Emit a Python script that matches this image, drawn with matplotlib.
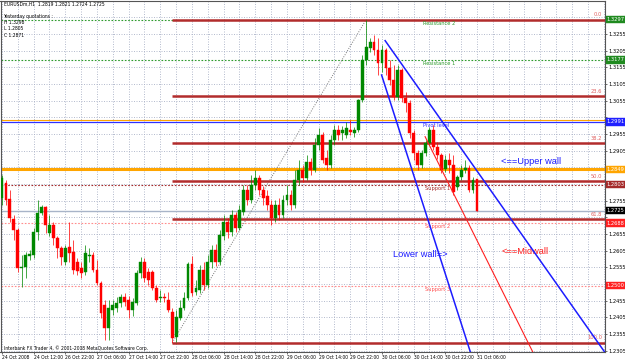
import matplotlib
matplotlib.use('Agg')
import matplotlib.pyplot as plt
import matplotlib.transforms as mtransforms
import numpy as np

# EURUSDm H1 bars, 24 Oct 2008 04:00 .. 31 Oct 2008 06:00
opens = [1.2763, 1.2808, 1.2760, 1.2700, 1.2667, 1.2553, 1.2556, 1.2589, 1.2592, 1.2661,
         1.2718, 1.2736, 1.2658, 1.2682, 1.2643, 1.2613, 1.2571, 1.2616, 1.2601, 1.2571,
         1.2553, 1.2541, 1.2589, 1.2592, 1.2547, 1.2508, 1.2442, 1.2373, 1.2427, 1.2433,
         1.2448, 1.2466, 1.2457, 1.2427, 1.2448, 1.2538, 1.2571, 1.2541, 1.2541, 1.2493,
         1.2463, 1.2466, 1.2457, 1.2421, 1.2346, 1.2403, 1.2433, 1.2463, 1.2565, 1.2481,
         1.2487, 1.2547, 1.2502, 1.2571, 1.2607, 1.2571, 1.2649, 1.2691, 1.2661, 1.2712,
         1.2673, 1.2721, 1.2787, 1.2757, 1.2802, 1.2823, 1.2787, 1.2769, 1.2742, 1.2703,
         1.2742, 1.2712, 1.2757, 1.2772, 1.2742, 1.2817, 1.2847, 1.2823, 1.2871, 1.2847,
         1.2922, 1.2952, 1.2883, 1.2862, 1.2937, 1.2967, 1.2958, 1.2952, 1.2967, 1.2958,
         1.2967, 1.3057, 1.3177, 1.3213, 1.3231, 1.3207, 1.3168, 1.3207, 1.3153, 1.3117,
         1.3066, 1.3147, 1.3063, 1.3048, 1.2958, 1.2898, 1.2862, 1.2898, 1.2928, 1.2967,
         1.2916, 1.2892, 1.2850, 1.2877, 1.2862, 1.2796, 1.2826, 1.2847, 1.2853, 1.2787,
         1.2819]
highs = [1.2832, 1.2817, 1.2787, 1.2712, 1.2673, 1.2592, 1.2601, 1.2607, 1.2673, 1.2757,
         1.2742, 1.2739, 1.2712, 1.2691, 1.2649, 1.2619, 1.2622, 1.2691, 1.2637, 1.2583,
         1.2571, 1.2622, 1.2613, 1.2601, 1.2577, 1.2514, 1.2457, 1.2457, 1.2457, 1.2466,
         1.2475, 1.2478, 1.2469, 1.2463, 1.2547, 1.2586, 1.2583, 1.2553, 1.2547, 1.2502,
         1.2487, 1.2478, 1.2481, 1.2433, 1.2427, 1.2457, 1.2481, 1.2571, 1.2589, 1.2517,
         1.2562, 1.2571, 1.2592, 1.2622, 1.2625, 1.2667, 1.2712, 1.2703, 1.2727, 1.2721,
         1.2742, 1.2802, 1.2802, 1.2832, 1.2847, 1.2832, 1.2799, 1.2787, 1.2757, 1.2757,
         1.2763, 1.2772, 1.2802, 1.2787, 1.2847, 1.2877, 1.2862, 1.2892, 1.2883, 1.2943,
         1.2973, 1.2961, 1.2907, 1.2952, 1.2982, 1.2982, 1.2979, 1.2991, 1.2997, 1.2976,
         1.3060, 1.3192, 1.3298, 1.3243, 1.3252, 1.3243, 1.3222, 1.3213, 1.3177, 1.3162,
         1.3162, 1.3153, 1.3081, 1.3057, 1.2967, 1.2907, 1.2907, 1.2937, 1.2976, 1.2982,
         1.2931, 1.2898, 1.2892, 1.2898, 1.2892, 1.2832, 1.2862, 1.2877, 1.2862, 1.2826,
         1.2821]
lows = [1.2742, 1.2742, 1.2691, 1.2637, 1.2541, 1.2496, 1.2523, 1.2577, 1.2583, 1.2637,
        1.2712, 1.2658, 1.2649, 1.2622, 1.2583, 1.2562, 1.2562, 1.2571, 1.2535, 1.2532,
        1.2523, 1.2532, 1.2571, 1.2541, 1.2502, 1.2403, 1.2337, 1.2337, 1.2412, 1.2421,
        1.2436, 1.2439, 1.2403, 1.2409, 1.2442, 1.2523, 1.2511, 1.2502, 1.2487, 1.2451,
        1.2451, 1.2451, 1.2421, 1.2329, 1.2331, 1.2397, 1.2427, 1.2457, 1.2469, 1.2472,
        1.2478, 1.2487, 1.2493, 1.2553, 1.2559, 1.2562, 1.2637, 1.2643, 1.2649, 1.2661,
        1.2667, 1.2712, 1.2742, 1.2748, 1.2787, 1.2772, 1.2742, 1.2727, 1.2682, 1.2691,
        1.2697, 1.2703, 1.2742, 1.2727, 1.2733, 1.2802, 1.2811, 1.2817, 1.2832, 1.2841,
        1.2907, 1.2868, 1.2847, 1.2853, 1.2922, 1.2937, 1.2937, 1.2943, 1.2952, 1.2946,
        1.2961, 1.3051, 1.3162, 1.3201, 1.3192, 1.3132, 1.3141, 1.3132, 1.3102, 1.3057,
        1.3057, 1.3051, 1.3021, 1.2943, 1.2877, 1.2847, 1.2853, 1.2889, 1.2922, 1.2907,
        1.2880, 1.2838, 1.2841, 1.2838, 1.2772, 1.2787, 1.2817, 1.2838, 1.2781, 1.2778,
        1.2724]
closes = [1.2823, 1.2757, 1.2703, 1.2667, 1.2553, 1.2556, 1.2592, 1.2595, 1.2661, 1.2718,
          1.2736, 1.2682, 1.2682, 1.2643, 1.2613, 1.2586, 1.2613, 1.2598, 1.2547, 1.2544,
          1.2538, 1.2598, 1.2592, 1.2547, 1.2508, 1.2418, 1.2373, 1.2433, 1.2442, 1.2448,
          1.2466, 1.2451, 1.2427, 1.2451, 1.2538, 1.2571, 1.2523, 1.2517, 1.2493, 1.2457,
          1.2466, 1.2463, 1.2427, 1.2343, 1.2406, 1.2433, 1.2463, 1.2565, 1.2478, 1.2493,
          1.2547, 1.2502, 1.2571, 1.2607, 1.2571, 1.2652, 1.2691, 1.2661, 1.2712, 1.2673,
          1.2727, 1.2787, 1.2757, 1.2802, 1.2823, 1.2787, 1.2763, 1.2742, 1.2703, 1.2742,
          1.2712, 1.2757, 1.2772, 1.2742, 1.2817, 1.2847, 1.2823, 1.2871, 1.2847, 1.2922,
          1.2952, 1.2877, 1.2862, 1.2937, 1.2967, 1.2952, 1.2967, 1.2973, 1.2960, 1.2967,
          1.3057, 1.3177, 1.3216, 1.3231, 1.3207, 1.3168, 1.3207, 1.3153, 1.3117, 1.3066,
          1.3147, 1.3063, 1.3048, 1.2958, 1.2898, 1.2862, 1.2898, 1.2928, 1.2967, 1.2916,
          1.2892, 1.2847, 1.2877, 1.2862, 1.2781, 1.2826, 1.2847, 1.2853, 1.2787, 1.2817,
          1.2725]

time_labels = ['24 Oct 2008', '24 Oct 12:00', '26 Oct 22:00', '27 Oct 06:00', '27 Oct 14:00',
               '27 Oct 22:00', '28 Oct 06:00', '28 Oct 14:00', '28 Oct 22:00', '29 Oct 06:00',
               '29 Oct 14:00', '29 Oct 22:00', '30 Oct 06:00', '30 Oct 14:00', '30 Oct 22:00',
               '31 Oct 06:00']
price_ticks = [1.2305 + 0.005 * k for k in range(21)]

# yesterday quotations and levels
yest_h, yest_l, yest_c = 1.3298, 1.2805, 1.2871
res2, res1, pivot, sup1, sup2, sup3 = 1.3297, 1.3177, 1.2991, 1.2803, 1.2688, 1.2500
orange_thin, orange_thick, bid = 1.2997, 1.2849, 1.2725

# fibonacci from the low to the high
fib_low_bar, fib_low = 43, 1.2329
fib_high_bar, fib_high = 92, 1.3298
fib_levels = [0.0, 23.6, 38.2, 50.0, 61.8, 100.0]

# trend lines: (bar, price) start and price change per bar
upper_wall = (96.8, 1.3235, -0.001684)
lower_wall = (95.9, 1.3132, -0.003704)
mid_wall = (106.9, 1.2947, -0.002374)

SMALL = 3.7
TINY = 3.25

plt.close('all')
fig = plt.figure(figsize=(6.25, 3.61), dpi=100)
ax = fig.add_axes([0.5 / 625, 9 / 361, 604.5 / 625, 351 / 361])
fig.patch.set_facecolor('white')
ax.set_facecolor('white')

x0, x1 = -0.38, 152.35
y0, y1 = 1.23011, 1.33539
ax.set_xlim(x0, x1)
ax.set_ylim(y0, y1)

# grid
grid_kw = dict(color='#aab2c6', lw=0.6, ls=(0, (1.2, 1.8)), zorder=0)
for k in range(0, 153, 4):
    ax.axvline(k, **grid_kw)
for p in price_ticks:
    ax.axhline(p, **grid_kw)

# horizontal levels
ax.axhline(res2, color='#2d9a2d', lw=0.8, ls=(0, (1.5, 1.5)), zorder=1)
ax.axhline(res1, color='#2d9a2d', lw=0.8, ls=(0, (1.5, 1.5)), zorder=1)
ax.axhline(orange_thin, color='#ffa500', lw=0.8, zorder=1)
ax.axhline(pivot, color='#3030ff', lw=0.9, zorder=1)
ax.axhline(orange_thick, color='#ffa500', lw=2.2, zorder=1)
ax.axhline(sup1, color='#a52a2a', lw=0.8, ls=(0, (1.5, 1.5)), zorder=1)
ax.axhline(bid, color='#a8b4c8', lw=1.0, zorder=1)
ax.axhline(sup2, color='#ff8c8c', lw=0.8, ls=(0, (1.5, 1.5)), zorder=1)
ax.axhline(sup3, color='#ff8c8c', lw=0.8, ls=(0, (1.5, 1.5)), zorder=1)

lvl_kw = dict(fontsize=SMALL, ha='left', va='top')
ax.text(106.3, res2 - 0.0004, 'Resistance 2', color='#2d9a2d', **lvl_kw)
ax.text(106.3, res1 - 0.0004, 'Resistance 1', color='#2d9a2d', **lvl_kw)
ax.text(106.3, pivot - 0.0004, 'Pivot level', color='#3030ff', **lvl_kw)
ax.text(106.8, sup1 - 0.0004, 'Support 1', color='#a52a2a', **lvl_kw)
ax.text(106.8, sup2 - 0.0004, 'Support 2', color='#ff5050', **lvl_kw)
ax.text(106.8, sup3 - 0.0004, 'Support 3', color='#ff5050', **lvl_kw)

# fibonacci
rng = fib_high - fib_low
ax.plot([fib_low_bar, fib_high_bar], [fib_low, fib_high], color='#777777',
        lw=0.7, ls=(0, (1, 1.5)), zorder=2)
for lv in fib_levels:
    p = fib_high - rng * lv / 100
    ax.plot([fib_low_bar, x1], [p, p], color='#b22c2c', lw=1.8, zorder=2,
            solid_capstyle='butt')
    ax.text(151.6, p + 0.0007, '%.1f' % lv, color='#e06060', fontsize=SMALL,
            ha='right', va='bottom')

# candles
n = len(opens)
idx = np.arange(n)
o = np.array(opens)
c = np.array(closes)
bull = c >= o
col = np.where(bull, '#008800', '#ff0000')
ax.vlines(idx, lows, highs, colors=col, lw=0.6, alpha=0.85, zorder=3)
body_h = np.maximum(np.abs(c - o), 0.00012)
ax.bar(idx, body_h, bottom=np.minimum(o, c), width=0.72, color=col,
       edgecolor=col, lw=0.3, zorder=4)

# trend lines, drawn as rays to the chart edge
for (b, p, s), color, lw in [(upper_wall, '#1c1cff', 1.1), (lower_wall, '#1c1cff', 1.1),
                             (mid_wall, '#ff2020', 0.8)]:
    xe = x1
    ye = p + s * (xe - b)
    if ye < y0:
        xe = b + (y0 - p) / s
        ye = y0
    ax.plot([b, xe], [p, ye], color=color, lw=lw, zorder=5)

ax.text(126.2, 1.2871, '<==Upper wall', color='#1c1cff', fontsize=6.7,
        family='Liberation Sans', va='center', ha='left')
ax.text(98.8, 1.2595, 'Lower wall=>', color='#1c1cff', fontsize=6.7,
        family='Liberation Sans', va='center', ha='left')
ax.text(126.2, 1.2602, '<==Midwall', color='#ff2020', fontsize=6.7,
        family='Liberation Sans', va='center', ha='left')

# header texts
hdr_kw = dict(transform=ax.transAxes, fontsize=TINY, ha='left', va='center', color='black')
ax.text(0.005, 1 - 3.5 / 351, 'EURUSDm,H1  1.2819 1.2821 1.2724 1.2725', **hdr_kw)
ax.text(0.005, 1 - 15.5 / 351, 'Yesterday quotations :', **hdr_kw)
ax.text(0.005, 1 - 21.5 / 351, 'H %.4f' % yest_h, **hdr_kw)
ax.text(0.005, 1 - 28 / 351, 'L %.4f' % yest_l, **hdr_kw)
ax.text(0.005, 1 - 34.5 / 351, 'C %.4f' % yest_c, **hdr_kw)
ax.text(0.005, 4 / 351, 'Interbank FX Trader 4, \u00a9 2001-2008 MetaQuotes Software Corp.',
        **hdr_kw)

# value boxes on the price scale
boxes = [(res2, '#1f8a1f'), (res1, '#1f8a1f'), (pivot, '#2020ff'), (orange_thick, '#ffa500'),
         (sup1, '#a52a2a'), (bid, '#000000'), (sup2, '#ff2020'), (sup3, '#ff2020')]

# axes and ticks; price labels under a value box are hidden as on the terminal
for sp in ax.spines.values():
    sp.set_color('#555555')
    sp.set_linewidth(0.8)
ax.yaxis.tick_right()
ax.set_yticks(price_ticks)
shown = []
for p in price_ticks:
    hidden = any(abs(p - bp) < 0.0021 for bp, _ in boxes)
    shown.append('' if hidden else '%.4f' % p)
ax.set_yticklabels(shown)
ax.tick_params(axis='y', labelsize=SMALL, length=1.5, width=0.6, pad=1.0, color='#555555')
ax.set_xticks(np.arange(0, 8 * len(time_labels), 8))
ax.set_xticklabels(time_labels, ha='left')
ax.tick_params(axis='x', labelsize=TINY, length=1.5, width=0.6, pad=0.8, color='#555555')

trans = mtransforms.blended_transform_factory(ax.transAxes, ax.transData)
for p, bc in boxes:
    ax.text(1.003, p, '%.4f' % p, transform=trans, fontsize=SMALL, color='white',
            ha='left', va='center', clip_on=False, zorder=10,
            bbox=dict(boxstyle='square,pad=0.2', fc=bc, ec=bc, lw=0.3))

fig.savefig('out.png', dpi=100, facecolor='white')
